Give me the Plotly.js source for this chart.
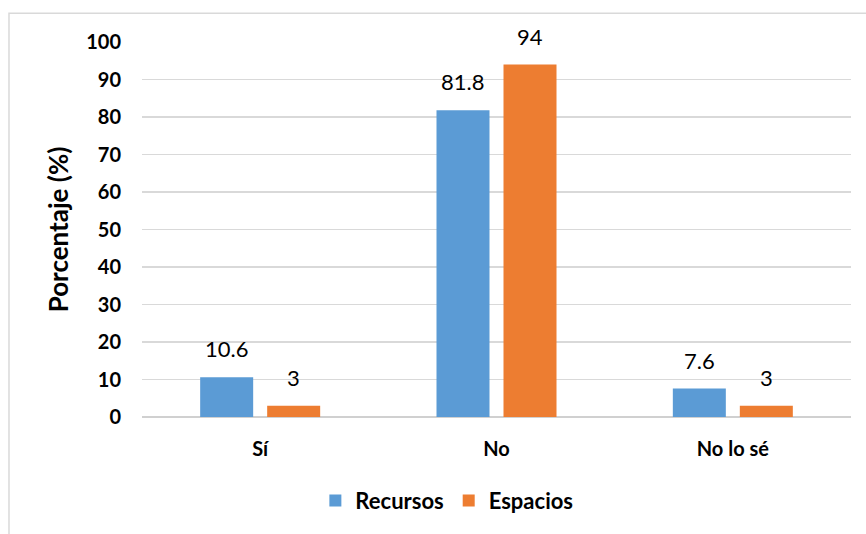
<!DOCTYPE html>
<html>
<head>
<meta charset="utf-8">
<script src="https://cdn.plot.ly/plotly-3.0.1.min.js"></script>
<style>
  html, body { margin: 0; padding: 0; background: #ffffff; }
  #chart { width: 866px; height: 534px; }
</style>
</head>
<body>
<div id="chart"></div>
<script>
// Respuestas por categoría (porcentaje)
const categories = ['Sí', 'No', 'No lo sé'];
const recursos = [10.6, 81.8, 7.6];
const espacios = [3, 94, 3];
const seriesNames = ['Recursos', 'Espacios'];
const seriesColors = ['#5B9BD5', '#ED7D31'];
const yTicks = [0, 10, 20, 30, 40, 50, 60, 70, 80, 90, 100];

const FONT = 'Lato, "Open Sans", sans-serif';
const W = 866, H = 534;
const margin = { l: 142, r: 15, t: 42, b: 115 };
const BARGAP = 0.433, BARGROUPGAP = 0.209;

const series = [recursos, espacios];

const data = series.map((vals, i) => ({
  type: 'bar',
  name: seriesNames[i],
  x: categories,
  y: vals,
  marker: { color: seriesColors[i] },
  cliponaxis: false,
  hoverinfo: 'x+y'
}));

// Value labels above each bar, offset horizontally to the bar's slot in the group
const plotW = W - margin.l - margin.r;
const slotW = plotW / categories.length * (1 - BARGAP) / series.length;
const annotations = [];
series.forEach((vals, i) => {
  const dx = (i - (series.length - 1) / 2) * slotW;
  vals.forEach((v, j) => {
    annotations.push({
      x: categories[j],
      y: v,
      xref: 'x',
      yref: 'y',
      text: String(v),
      showarrow: false,
      xanchor: 'center',
      yanchor: 'bottom',
      xshift: dx,
      yshift: 13,
      font: { family: FONT, size: 22, color: '#000000' }
    });
  });
});

const layout = {
  width: W,
  height: H,
  margin: margin,
  paper_bgcolor: '#ffffff',
  plot_bgcolor: '#ffffff',
  font: { family: FONT, color: '#000000' },
  barmode: 'group',
  bargap: BARGAP,
  bargroupgap: BARGROUPGAP,
  showlegend: true,
  legend: {
    orientation: 'h',
    x: 0.43,
    xanchor: 'center',
    y: -0.223,
    yanchor: 'middle',
    font: { family: FONT, size: 22, color: '#000000', weight: 'bold' },
    itemwidth: 30,
    traceorder: 'normal'
  },
  xaxis: {
    type: 'category',
    showgrid: false,
    showline: false,
    zeroline: false,
    ticks: '',
    ticklabelstandoff: 18,
    tickfont: { family: FONT, size: 20, color: '#000000', weight: 'bold' }
  },
  yaxis: {
    range: [0, 100],
    tickmode: 'array',
    tickvals: yTicks,
    ticktext: yTicks.map(String),
    showgrid: true,
    gridcolor: '#D9D9D9',
    gridwidth: 1.3,
    zeroline: true,
    zerolinecolor: '#D0D0D0',
    zerolinewidth: 1.8,
    showline: false,
    ticks: '',
    ticklabelstandoff: 20,
    tickfont: { family: FONT, size: 20, color: '#000000', weight: 'bold' },
    title: {
      text: 'Porcentaje (%)',
      font: { family: FONT, size: 26, color: '#000000', weight: 'bold' },
      standoff: 10
    }
  },
  annotations: annotations,
  shapes: [{
    type: 'rect',
    xref: 'paper',
    yref: 'paper',
    x0: -0.1876,
    x1: 1.04,
    y0: -0.35,
    y1: 1.077,
    line: { color: '#D9D9D9', width: 1.5 },
    fillcolor: 'rgba(0,0,0,0)',
    layer: 'below'
  }]
};

Plotly.newPlot('chart', data, layout, { displayModeBar: false, staticPlot: true });
</script>
</body>
</html>
